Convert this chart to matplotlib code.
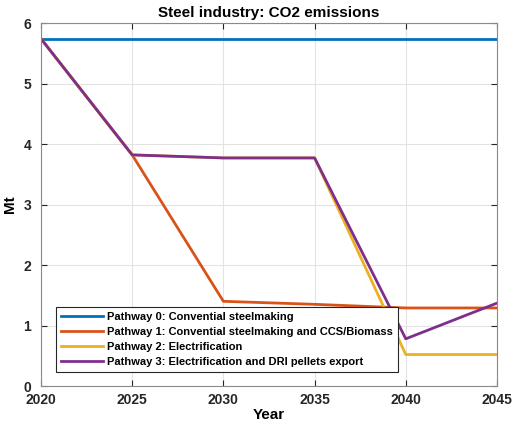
import matplotlib
matplotlib.use('Agg')
import matplotlib.pyplot as plt

plt.rcParams['font.family'] = ['Liberation Sans', 'DejaVu Sans']
plt.rcParams['font.weight'] = 'bold'

years = [2020, 2025, 2030, 2035, 2040, 2045]
pathway0 = [5.74, 5.74, 5.74, 5.74, 5.74, 5.74]
pathway1 = [5.74, 3.82, 1.40, 1.35, 1.29, 1.29]
pathway2 = [5.74, 3.82, 3.77, 3.77, 0.52, 0.52]
pathway3 = [5.74, 3.82, 3.77, 3.77, 0.78, 1.37]
labels = ['Pathway 0: Convential steelmaking',
          'Pathway 1: Convential steelmaking and CCS/Biomass',
          'Pathway 2: Electrification',
          'Pathway 3: Electrification and DRI pellets export']
colors = ['#0072BD', '#D95319', '#EDB120', '#7E2F8E']

fig = plt.figure(figsize=(5.15, 4.3), dpi=100)
ax = fig.add_axes([0.0796, 0.1023, 0.8854, 0.8442])

for series, lab, c in zip([pathway0, pathway1, pathway2, pathway3], labels, colors):
    ax.plot(years, series, color=c, lw=2, label=lab)

ax.set_xlim(2020, 2045)
ax.set_ylim(0, 6)
ax.set_xticks(years)
ax.set_yticks(range(0, 7))
ax.grid(True, color='#e3e3e3', lw=0.8)
ax.set_axisbelow(True)
ax.tick_params(direction='in', top=True, right=True, length=4, width=0.8,
               color='#262626', labelsize=10, labelcolor='#262626')
ax.tick_params(axis='y', pad=7)
ax.tick_params(axis='x', pad=5)
for s in ax.spines.values():
    s.set_color('#8a8a8a')
    s.set_linewidth(0.8)

ax.set_title('Steel industry: CO2 emissions', fontsize=11, fontweight='bold', pad=4)
ax.set_xlabel('Year', fontsize=11, fontweight='bold', labelpad=1)
ax.set_ylabel('Mt', fontsize=11, fontweight='bold', labelpad=5)

# legend box sits in the lower-left corner, MATLAB-like square frame
leg = ax.legend(loc='lower left', bbox_to_anchor=(0.032, 0.038), borderaxespad=0,
                fontsize=8, handlelength=3.8, handletextpad=0.35, borderpad=0.45,
                labelspacing=0.45, fancybox=False, framealpha=1,
                edgecolor='#262626')
leg.get_frame().set_linewidth(0.8)

fig.savefig('out.png', dpi=100)
